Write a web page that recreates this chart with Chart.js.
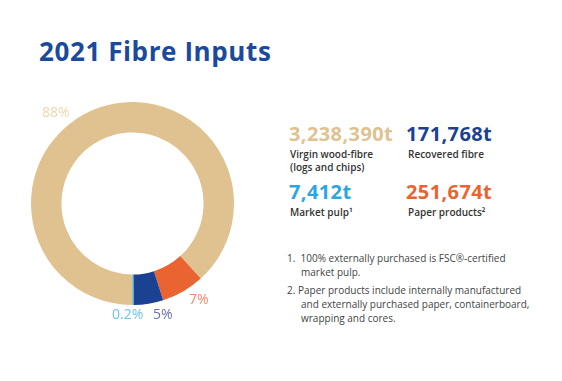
<!DOCTYPE html>
<html>
<head>
<meta charset="utf-8">
<script src="https://cdn.jsdelivr.net/npm/chart.js@4"></script>
<style>
  html, body { margin: 0; padding: 0; background: #fff; }
  body { width: 562px; height: 381px; position: relative; overflow: hidden; font-family: "Open Sans", "Lato", sans-serif; }
  .abs { position: absolute; white-space: nowrap; }
  #title { left: 39px; top: 33px; font-size: 26px; font-weight: 700; color: #1a4a9e; letter-spacing: 0.6px; }
  #chartBox { position: absolute; left: 31px; top: 102px; width: 203px; height: 203px; }
  .pct { font-size: 14px; font-weight: 400; }
  .big { font-size: 20px; line-height: 20px; font-weight: 700; letter-spacing: 0.4px; }
  .lab { font-size: 10px; font-weight: 600; color: #333; line-height: 13px; }
  .note { font-size: 10px; color: #444; line-height: 14px; }
</style>
</head>
<body>
<div id="title" class="abs">2021 Fibre Inputs</div>
<div id="chartBox"><canvas id="c"></canvas></div>

<div class="abs pct" style="left:42px;top:102px;color:#ecd6b0;">88%</div>
<div class="abs pct" style="left:189px;top:289px;color:#ef8a68;">7%</div>
<div class="abs pct" style="left:153px;top:304px;color:#6b70aa;">5%</div>
<div class="abs pct" style="left:112px;top:304px;color:#6cc3ee;">0.2%</div>

<div class="abs big" style="left:289px;top:124px;color:#dfc28f;">3,238,390t</div>
<div class="abs lab" style="left:290px;top:148px;">Virgin wood-fibre<br>(logs and chips)</div>
<div class="abs big" style="left:406px;top:124px;color:#1b4193;">171,768t</div>
<div class="abs lab" style="left:408px;top:148px;">Recovered fibre</div>
<div class="abs big" style="left:289px;top:182px;color:#2aa7df;">7,412t</div>
<div class="abs lab" style="left:290px;top:206px;">Market pulp¹</div>
<div class="abs big" style="left:406px;top:182px;color:#e96431;">251,674t</div>
<div class="abs lab" style="left:408px;top:206px;">Paper products²</div>

<div class="abs note" style="left:287px;top:251px;">1.&nbsp; 100% externally purchased is FSC®-certified</div>
<div class="abs note" style="left:301px;top:265px;">market pulp.</div>
<div class="abs note" style="left:287px;top:283px;">2. Paper products include internally manufactured</div>
<div class="abs note" style="left:301px;top:297px;">and externally purchased paper, containerboard,</div>
<div class="abs note" style="left:301px;top:311px;">wrapping and cores.</div>

<script>
const categories = ["Virgin wood-fibre (logs and chips)", "Paper products", "Recovered fibre", "Market pulp"];
const tonnes = [3238390, 251674, 171768, 7412];
const colours = ["#dfc28f", "#e96431", "#1b4193", "#2aa7df"];

new Chart(document.getElementById("c"), {
  type: "doughnut",
  data: {
    labels: categories,
    datasets: [{
      data: tonnes,
      backgroundColor: colours,
      borderWidth: 0,
      hoverOffset: 0
    }]
  },
  options: {
    responsive: true,
    maintainAspectRatio: false,
    animation: false,
    rotation: 180,
    cutout: "70%",
    layout: { padding: 0 },
    plugins: {
      legend: { display: false },
      tooltip: { enabled: false },
      title: { display: false }
    }
  }
});
</script>
</body>
</html>
